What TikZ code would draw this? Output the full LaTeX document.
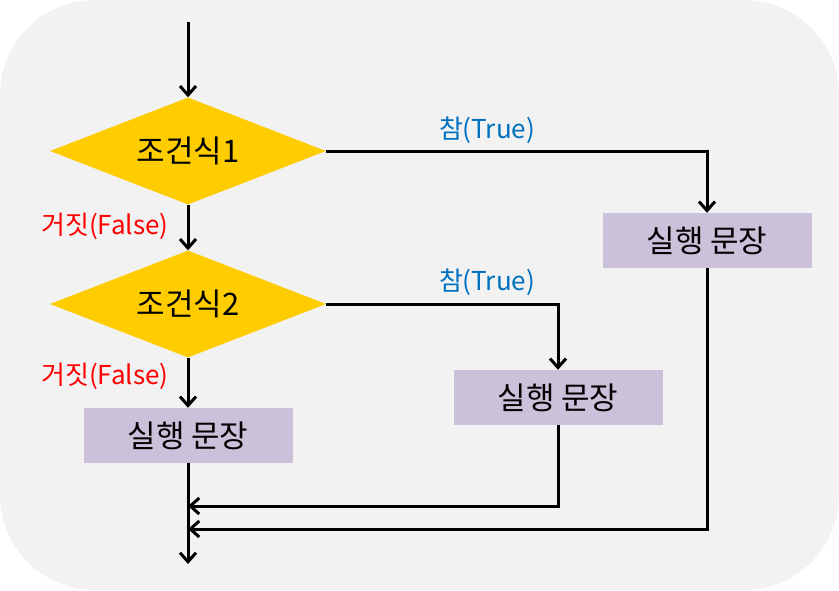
\documentclass[tikz,border=0pt]{standalone}
\usepackage{fontspec}
\setmainfont{Noto Sans CJK KR}
\usetikzlibrary{shapes.geometric,arrows.meta}
\definecolor{bggray}{HTML}{F2F2F2}
\definecolor{dyellow}{HTML}{FFCC00}
\definecolor{boxlilac}{HTML}{CCC1DA}
\definecolor{trueblue}{HTML}{0070C0}
\definecolor{falsered}{HTML}{FF0000}
\tikzset{
  cond/.style={diamond, fill=dyellow, inner sep=0pt, minimum width=276pt, minimum height=107pt},
  condtext/.style={font=\fontsize{31}{34}\selectfont},
  stmt/.style={rectangle, fill=boxlilac, inner sep=0pt, minimum width=209pt, minimum height=55pt, font=\fontsize{31}{34}\selectfont},
  flow/.style={line width=3pt, -{Straight Barb[length=9pt,width=16pt,line width=3pt]}},
  tlabel/.style={text=trueblue, font=\fontsize{26}{30}\selectfont},
  flabel/.style={text=falsered, font=\fontsize{26}{30}\selectfont}
}
\begin{document}
\begin{tikzpicture}[x=1pt,y=-1pt]
\useasboundingbox (0,0) rectangle (839,590);
\fill[bggray, rounded corners=95pt] (0,0) rectangle (839,590);
\node[cond] (c1) at (188,151) {};
\node[condtext] (c1t) at (c1.center) {조건식1};
\node[cond] (c2) at (188,304) {};
\node[condtext] (c2t) at (c2.center) {조건식2};
\node[stmt] (s1) at (188,435.5) {실행 문장};
\node[stmt] (s2) at (558,397.5) {실행 문장};
\node[stmt] (s3) at (707,240.5) {실행 문장};
\coordinate (start) at (188,22);
\coordinate (end) at (188,564);
\coordinate (j2) at (188,506);
\coordinate (j3) at (188,529);
\draw[flow] (start) -- (c1.north);
\draw[flow] (c1.south) -- (c2.north);
\draw[flow] (c2.south) -- (s1.north);
\draw[flow] (s1.south) -- (end);
\draw[flow] (c1.east) -| (s3.north);
\draw[flow] (c2.east) -| (s2.north);
\draw[flow] (s2.south) |- (j2);
\draw[flow] (s3.south) |- (j3);
\node[tlabel] (t1) at (487,130) {참(True)};
\node[tlabel] (t2) at (487,282) {참(True)};
\node[flabel] (f1) at (105,226) {거짓(False)};
\node[flabel] (f2) at (105,376) {거짓(False)};
\end{tikzpicture}
\end{document}
